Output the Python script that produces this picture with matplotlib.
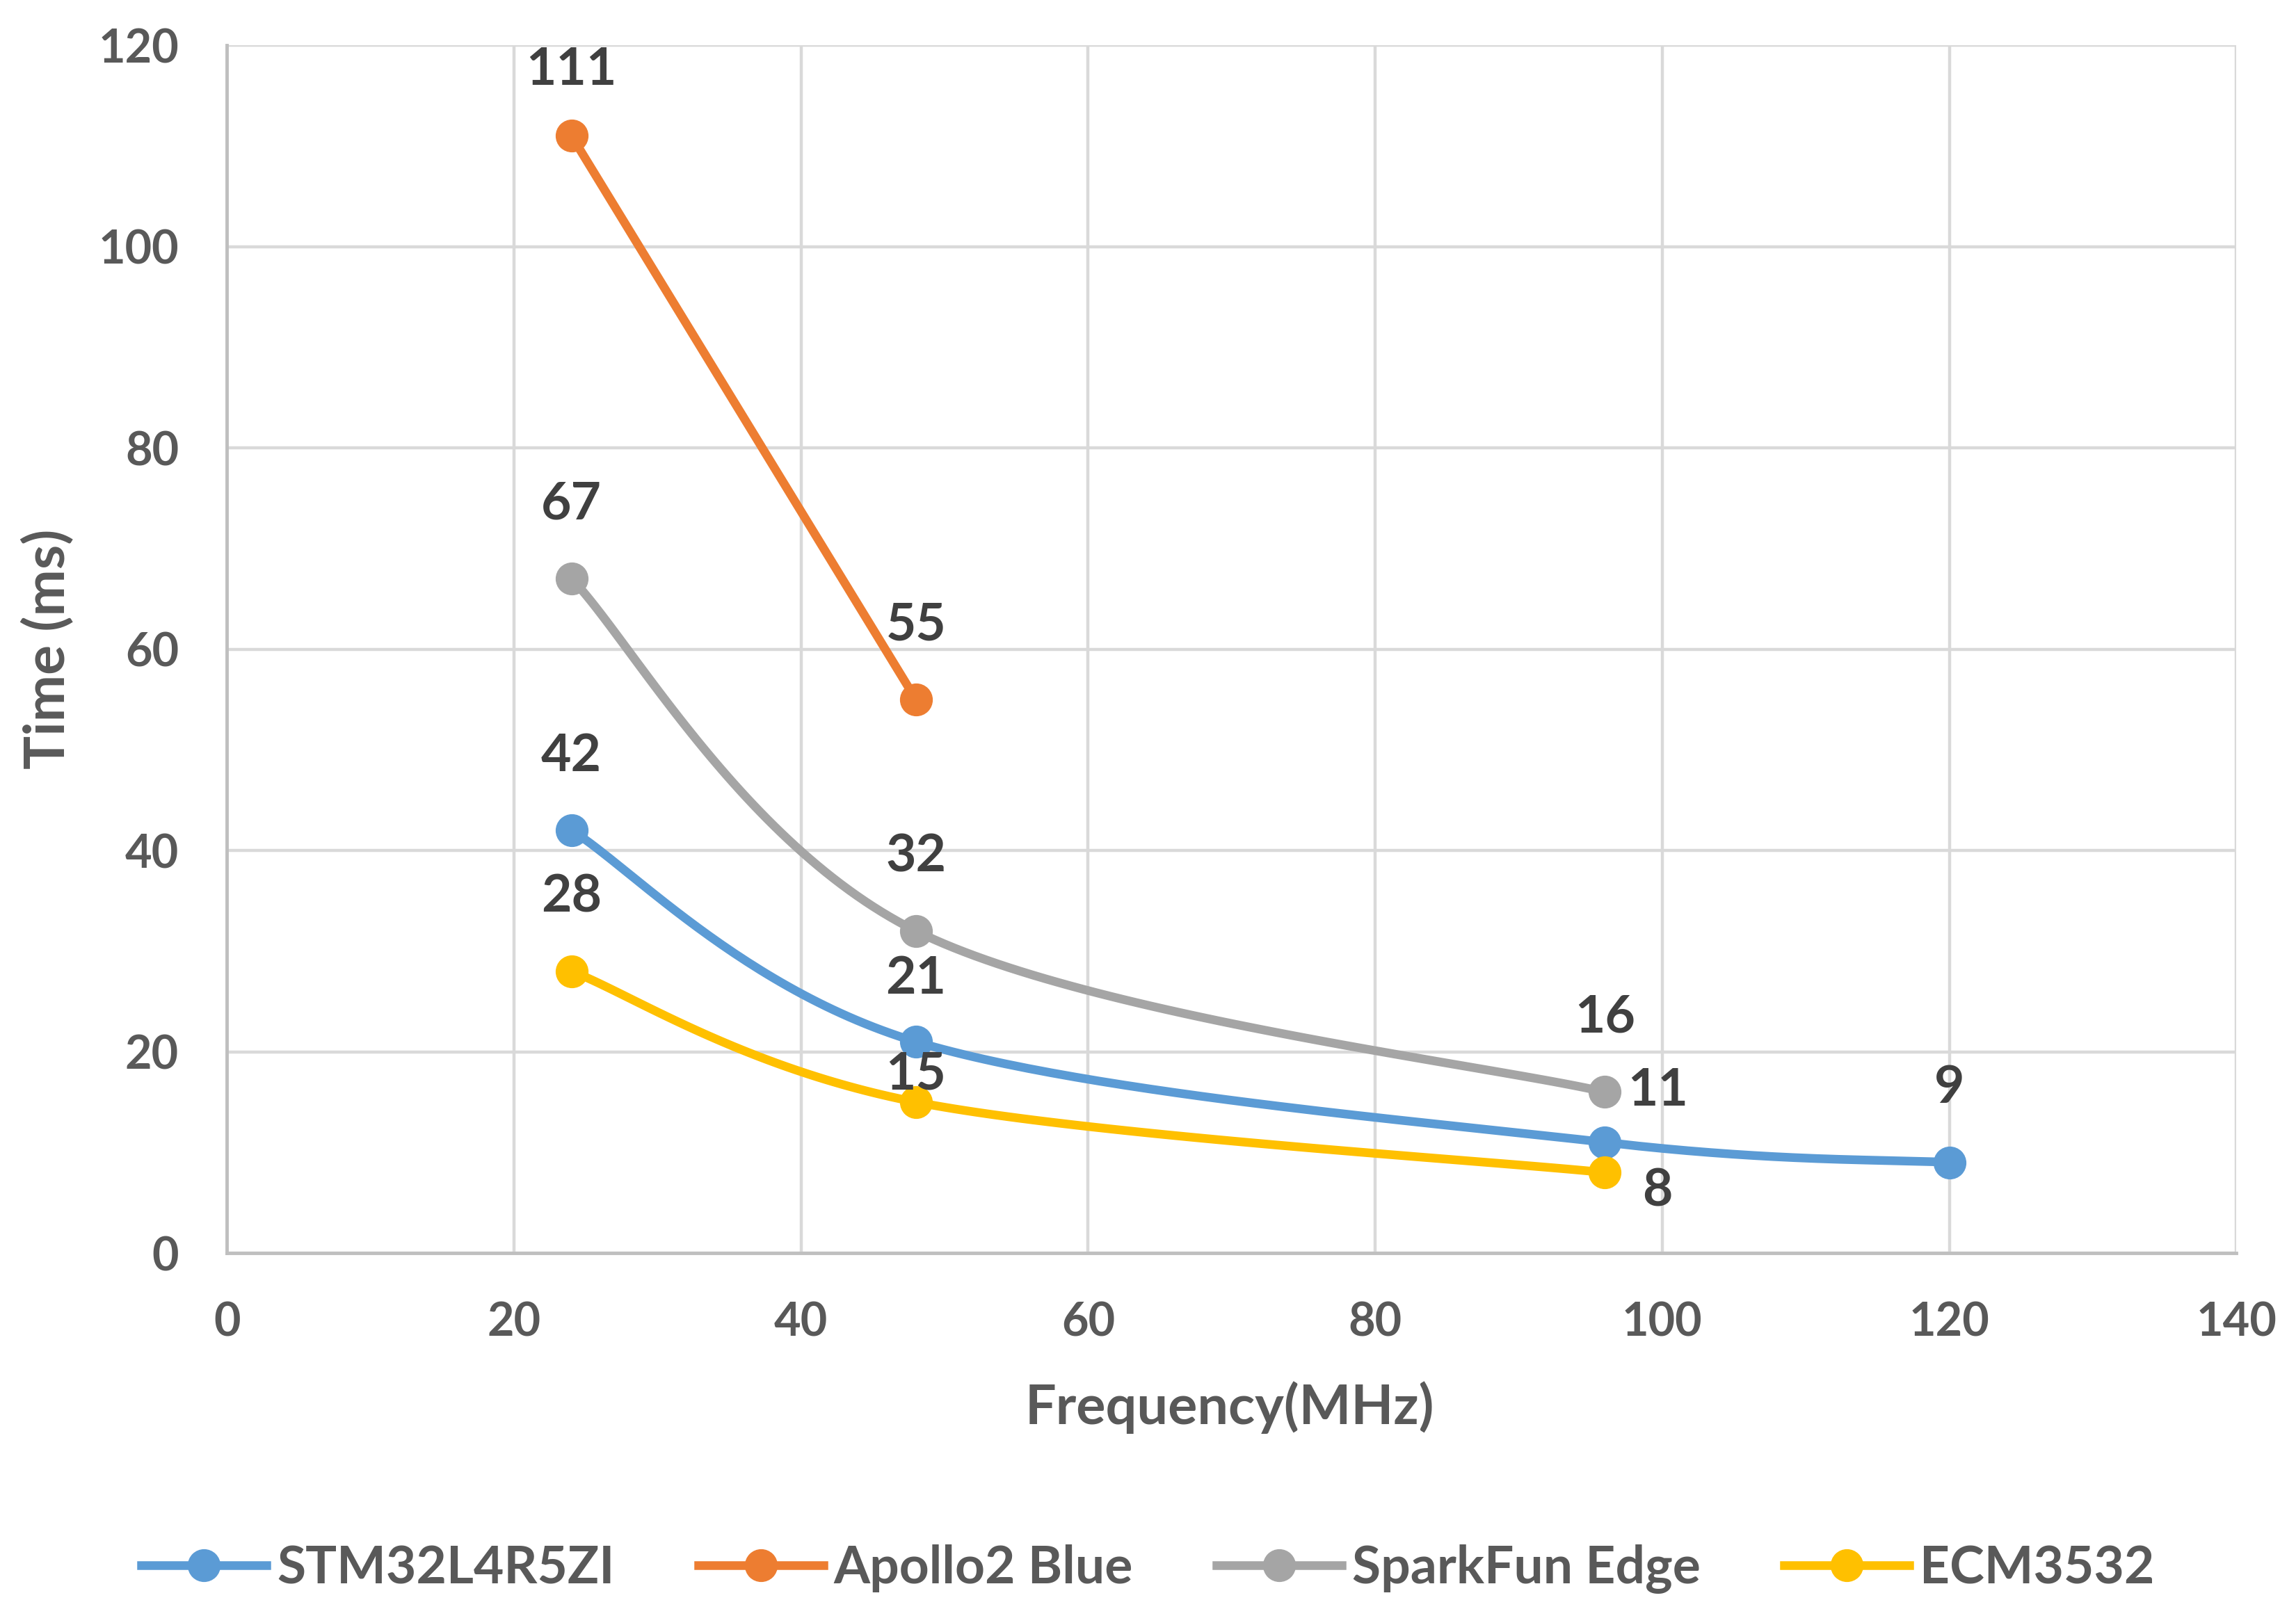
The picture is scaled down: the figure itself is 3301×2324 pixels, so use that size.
import numpy as np
import matplotlib
matplotlib.use("Agg")
import matplotlib.pyplot as plt
from matplotlib.lines import Line2D

plt.rcParams['font.family'] = ['Lato', 'DejaVu Sans']
plt.rcParams['font.weight'] = 'bold'

# ---- data ----
series_names = ["STM32L4R5ZI", "Apollo2 Blue", "SparkFun Edge", "ECM3532"]
stm_x = [24, 48, 96, 120]
stm_y = [42, 21, 11, 9]
apollo_x = [24, 48]
apollo_y = [111, 55]
spark_x = [24, 48, 96]
spark_y = [67, 32, 16]
ecm_x = [24, 48, 96]
ecm_y = [28, 15, 8]
x_ticks = [0, 20, 40, 60, 80, 100, 120, 140]
y_ticks = [0, 20, 40, 60, 80, 100, 120]

colors = ["#5B9BD5", "#ED7D31", "#A5A5A5", "#FFC000"]
# label offsets in pixels (style only)
label_offsets = [
    [(0, 107), (0, 91), (76, 74), (0, 107)],
    [(0, 95), (0, 107)],
    [(0, 107), (0, 107), (0, 107)],
    [(0, 107), (0, 40), (76, -27)],
]

fig = plt.figure(figsize=(33.01, 23.24), dpi=100)
ax = fig.add_axes([0.0989, 0.2246, 0.974 - 0.0989, 0.972 - 0.2246])
ax.set_xlim(0, 140)
ax.set_ylim(0, 120)

W = 2889.0
H = 1737.0


def smooth(xs, ys, n=60):
    # Excel-like Catmull-Rom Bezier smoothing in pixel space
    px = np.array(xs, float) / 140 * W
    py = np.array(ys, float) / 120 * H
    P = np.column_stack([px, py])
    if len(P) < 3:
        return np.array(xs, float), np.array(ys, float)
    out = []
    m = len(P)
    for i in range(m - 1):
        p0 = P[i - 1] if i > 0 else P[i]
        p1 = P[i]
        p2 = P[i + 1]
        p3 = P[i + 2] if i + 2 < m else P[i + 1]
        c1 = p1 + (p2 - p0) / 6.0
        c2 = p2 - (p3 - p1) / 6.0
        t = np.linspace(0, 1, n)[:, None]
        seg = ((1 - t) ** 3) * p1 + 3 * ((1 - t) ** 2) * t * c1 + 3 * (1 - t) * t ** 2 * c2 + t ** 3 * p2
        if i > 0:
            seg = seg[1:]
        out.append(seg)
    out = np.vstack(out)
    return out[:, 0] / W * 140, out[:, 1] / H * 120


all_x = [stm_x, apollo_x, spark_x, ecm_x]
all_y = [stm_y, apollo_y, spark_y, ecm_y]
lw = 9
ms = 33

for xs, ys, c, offs in zip(all_x, all_y, colors, label_offsets):
    sx, sy = smooth(xs, ys)
    ax.plot(sx, sy, color=c, lw=lw, solid_capstyle='round', zorder=3)
    ax.plot(xs, ys, 'o', color=c, ms=ms, mec=c, zorder=4)
    for (x, y), (dx, dy) in zip(zip(xs, ys), offs):
        ax.annotate(str(y), (x, y), xytext=(dx * 0.72, dy * 0.72), textcoords='offset points',
                    ha='center', va='center', fontsize=54, fontweight='bold', color='#404040', zorder=5)

ax.set_xticks(x_ticks)
ax.set_yticks(y_ticks)
ax.grid(True, color='#D9D9D9', lw=3.2)
ax.set_axisbelow(True)
ax.tick_params(length=0, labelsize=48, labelcolor='#595959', pad=50)
for lab in ax.get_xticklabels() + ax.get_yticklabels():
    lab.set_fontweight('bold')
for s in ['top', 'right']:
    ax.spines[s].set_visible(False)
for s in ['left', 'bottom']:
    ax.spines[s].set_color('#BFBFBF')
    ax.spines[s].set_linewidth(3.5)

ax.set_xlabel("Frequency(MHz)", fontsize=57, fontweight='bold', color='#595959')
ax.set_ylabel("Time (ms)", fontsize=58, fontweight='bold', color='#595959')
ax.xaxis.label.set_va('center')
ax.yaxis.label.set_va('center')
ax.xaxis.set_label_coords(0.499, -0.128)
ax.yaxis.set_label_coords(-0.089, 0.50)

handles = [Line2D([], [], color=c, lw=lw, marker='o', ms=ms, mec=c) for c in colors]
leg = fig.legend(handles, series_names, loc='center', bbox_to_anchor=(0.5, 0.029), ncol=4,
                 frameon=False, handlelength=2.4, handletextpad=0.2,
                 columnspacing=1.6, prop={'weight': 'bold', 'size': 54})
for t in leg.get_texts():
    t.set_color('#595959')

fig.savefig("out.png", dpi=100)
